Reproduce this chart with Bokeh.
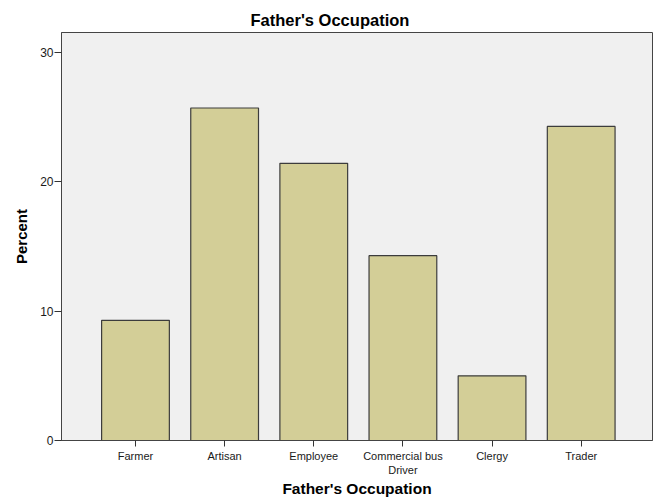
from bokeh.plotting import figure
from bokeh.models import FixedTicker, Range1d, ColumnDataSource
from bokeh.embed import file_html
from bokeh.resources import INLINE

categories = ["Farmer", "Artisan", "Employee", "Commercial bus\nDriver", "Clergy", "Trader"]
percent = [9.29, 25.71, 21.43, 14.29, 5.0, 24.29]
y_ticks = [0, 10, 20, 30]

xs = list(range(1, len(categories) + 1))
src = ColumnDataSource(dict(x=xs, top=percent, cat=categories))

FONT = "Liberation Sans"

p = figure(width=662, height=500, output_backend="svg", toolbar_location=None,
           x_range=Range1d(0.17, 6.80), y_range=Range1d(0, 31.55),
           min_border_left=61, min_border_right=10, min_border_top=32, min_border_bottom=60,
           title="Father's Occupation")

p.vbar(x="x", top="top", width=0.76, bottom=0, source=src,
       fill_color="#D3CE97", line_color="#3c3c3c", line_width=1.2)

p.title.text_font = FONT
p.title.text_font_size = "16.5px"
p.title.text_font_style = "bold"
p.title.align = "left"
p.title.offset = 189
p.title.text_color = "#000000"
p.title.standoff = 7

p.background_fill_color = "#F0F0F0"
p.border_fill_color = "white"
p.outline_line_color = "#444444"
p.outline_line_width = 1
p.xgrid.visible = False
p.ygrid.visible = False

p.yaxis.ticker = FixedTicker(ticks=y_ticks)
p.yaxis.minor_tick_line_color = None
p.yaxis.major_tick_in = 0
p.yaxis.major_tick_out = 7
p.yaxis.axis_line_color = "#444444"
p.yaxis.major_tick_line_color = "#333333"
p.yaxis.major_label_text_font = FONT
p.yaxis.major_label_text_font_size = "12px"
p.yaxis.major_label_text_color = "#1a1a1a"
p.yaxis.major_label_standoff = 1
p.yaxis.axis_label = "Percent"
p.yaxis.axis_label_text_font = FONT
p.yaxis.axis_label_text_font_size = "15px"
p.yaxis.axis_label_text_font_style = "bold"
p.yaxis.axis_label_text_color = "#000000"
p.yaxis.axis_label_standoff = 7

p.xaxis.ticker = FixedTicker(ticks=xs)
p.xaxis.major_label_overrides = {x: c for x, c in zip(xs, categories)}
p.xaxis.minor_tick_line_color = None
p.xaxis.major_tick_in = 0
p.xaxis.major_tick_out = 6
p.xaxis.axis_line_color = "#444444"
p.xaxis.major_tick_line_color = "#333333"
p.xaxis.major_label_text_font = FONT
p.xaxis.major_label_text_font_size = "11px"
p.xaxis.major_label_text_color = "#1a1a1a"
p.xaxis.major_label_standoff = 3
p.xaxis.axis_label = "Father's Occupation"
p.xaxis.axis_label_text_font = FONT
p.xaxis.axis_label_text_font_size = "15.5px"
p.xaxis.axis_label_text_font_style = "bold"
p.xaxis.axis_label_text_color = "#000000"
p.xaxis.axis_label_standoff = 1

open("out.html", "w").write(file_html(p, INLINE))
